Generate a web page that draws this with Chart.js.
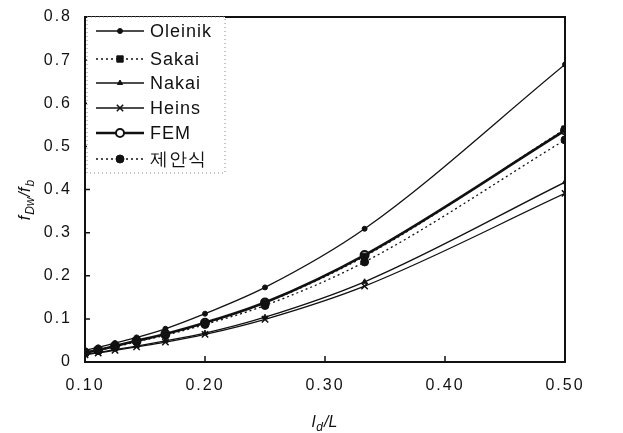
<!DOCTYPE html>
<html>
<head>
<meta charset="utf-8">
<script src="https://cdn.jsdelivr.net/npm/chart.js@4"></script>
<style>
  body { margin: 0; background: #fff; }
  #wrap { width: 623px; height: 433px; }
</style>
</head>
<body>
<div id="wrap"><canvas id="chart" width="623" height="433"></canvas></div>
<script>
// l_d/L values
const ratios = [0.1, 0.111, 0.125, 0.143, 0.167, 0.2, 0.25, 0.333, 0.5];

// f_Dw/f_b for each method
const oleinik = [0.027, 0.034, 0.044, 0.057, 0.077, 0.112, 0.173, 0.309, 0.69];
const sakai   = [0.022, 0.028, 0.037, 0.049, 0.064, 0.09, 0.137, 0.245, 0.54];
const nakai   = [0.018, 0.022, 0.029, 0.037, 0.049, 0.067, 0.104, 0.186, 0.417];
const heins   = [0.017, 0.021, 0.027, 0.035, 0.046, 0.064, 0.099, 0.176, 0.391];
const fem     = [0.022, 0.028, 0.037, 0.049, 0.065, 0.091, 0.138, 0.248, 0.537];
const proposed = [0.021, 0.027, 0.035, 0.047, 0.062, 0.087, 0.131, 0.232, 0.515];

const seriesNames = ['Oleinik', 'Sakai', 'Nakai', 'Heins', 'FEM', '제안식'];
const xTicks = [0.1, 0.2, 0.3, 0.4, 0.5];

const toPoints = vals => vals.map((v, i) => ({ x: ratios[i], y: v }));

function makeSet(label, vals, style) {
  return Object.assign({
    label: label,
    data: toPoints(vals),
    borderColor: '#111',
    backgroundColor: '#111',
    borderWidth: 1.3,
    pointBorderColor: '#111',
    pointBackgroundColor: '#111',
    pointRadius: 3,
    pointBorderWidth: 1,
    cubicInterpolationMode: 'monotone',
    fill: false
  }, style);
}

const datasets = [
  makeSet(seriesNames[0], oleinik, { pointStyle: 'circle', pointRadius: 2.5 }),
  makeSet(seriesNames[1], sakai, { borderDash: [2, 3], pointStyle: 'rect', pointRadius: 4.5 }),
  makeSet(seriesNames[2], nakai, { pointStyle: 'triangle', pointRadius: 3 }),
  makeSet(seriesNames[3], heins, { pointStyle: 'crossRot', pointRadius: 4.5, pointBorderWidth: 1.5 }),
  makeSet(seriesNames[4], fem, { borderWidth: 2.6, pointStyle: 'circle', pointRadius: 4, pointBackgroundColor: '#fff', pointBorderWidth: 2 }),
  makeSet(seriesNames[5], proposed, { borderDash: [2, 3], pointStyle: 'circle', pointRadius: 4 })
];

const FONT = '"Liberation Sans", Arial, sans-serif';

// letter spacing like the scanned figure
const spacing = {
  id: 'spacing',
  beforeUpdate(chart) { chart.ctx.letterSpacing = '2px'; },
  beforeDraw(chart) { chart.ctx.letterSpacing = '2px'; }
};

// frame, inward ticks, axis titles and legend box
const decorations = {
  id: 'decorations',
  afterDraw(chart) {
    const ctx = chart.ctx;
    const a = chart.chartArea;
    const xs = chart.scales.x, ys = chart.scales.y;
    ctx.save();
    ctx.letterSpacing = '0px';
    ctx.strokeStyle = '#111';
    ctx.lineWidth = 2;
    ctx.setLineDash([]);
    ctx.strokeRect(a.left, a.top, a.right - a.left, a.bottom - a.top);

    ctx.lineWidth = 1.5;
    ctx.beginPath();
    xTicks.slice(1, -1).forEach(v => {
      const px = xs.getPixelForValue(v);
      ctx.moveTo(px, a.bottom);
      ctx.lineTo(px, a.bottom - 6);
    });
    for (let v = 0.1; v < 0.8; v += 0.1) {
      const py = ys.getPixelForValue(v);
      ctx.moveTo(a.left, py);
      ctx.lineTo(a.left + 5, py);
    }
    ctx.stroke();

    // y title: f_Dw / f_b
    ctx.fillStyle = '#111';
    ctx.save();
    ctx.translate(30, (a.top + a.bottom) / 2 + 10);
    ctx.rotate(-Math.PI / 2);
    drawSub(ctx, [['f', 16], ['Dw', 12, 4], ['/f', 16], ['b', 12, 4]], 0, 0, 'center');
    ctx.restore();

    // x title: l_d / L
    drawSub(ctx, [['l', 16], ['d', 12, 4], ['/L', 16]], (a.left + a.right) / 2, 427, 'center');

    // legend
    const lx = a.left + 2, ly = a.top, lw = 138, lh = 156;
    ctx.strokeStyle = '#888';
    ctx.lineWidth = 1;
    ctx.setLineDash([1, 3]);
    ctx.fillStyle = '#fff';
    ctx.fillRect(lx, ly, lw, lh);
    ctx.strokeRect(lx, ly, lw, lh);

    const rows = [31, 59, 83, 108, 133, 159];
    chart.data.datasets.forEach((ds, i) => {
      const cy = rows[i];
      ctx.setLineDash(ds.borderDash || []);
      ctx.strokeStyle = ds.borderColor;
      ctx.lineWidth = ds.borderWidth;
      ctx.beginPath();
      ctx.moveTo(lx + 9, cy);
      ctx.lineTo(lx + 57, cy);
      ctx.stroke();
      ctx.setLineDash([]);
      ctx.fillStyle = ds.pointBackgroundColor;
      ctx.strokeStyle = ds.pointBorderColor;
      ctx.lineWidth = ds.pointBorderWidth;
      Chart.helpers.drawPoint(ctx, { pointStyle: ds.pointStyle, radius: ds.pointRadius, borderWidth: ds.pointBorderWidth, rotation: 0 }, lx + 33, cy);
      ctx.fillStyle = '#111';
      ctx.font = '18px ' + FONT;
      ctx.letterSpacing = '1px';
      ctx.textAlign = 'left';
      ctx.textBaseline = 'middle';
      ctx.fillText(ds.label, lx + 63, cy + 1);
      ctx.letterSpacing = '0px';
    });
    ctx.restore();
  }
};

// draw text parts with subscripts; part = [text, size, drop]
function drawSub(ctx, parts, x, y, align) {
  ctx.textBaseline = 'alphabetic';
  ctx.textAlign = 'left';
  let total = 0;
  parts.forEach(p => {
    ctx.font = 'italic ' + p[1] + 'px ' + FONT;
    total += ctx.measureText(p[0]).width + 1;
  });
  let cx = align === 'center' ? x - total / 2 : x;
  parts.forEach(p => {
    ctx.font = 'italic ' + p[1] + 'px ' + FONT;
    ctx.fillText(p[0], cx, y + (p[2] || 0));
    cx += ctx.measureText(p[0]).width + 1;
  });
}

new Chart(document.getElementById('chart').getContext('2d'), {
  type: 'line',
  data: { datasets: datasets },
  plugins: [spacing, decorations],
  options: {
    responsive: false,
    animation: false,
    layout: { padding: { left: 0, right: 58, top: 17, bottom: 0 } },
    plugins: {
      legend: { display: false },
      tooltip: { enabled: false }
    },
    scales: {
      x: {
        type: 'linear',
        min: 0.1,
        max: 0.5,
        afterBuildTicks: s => { s.ticks = xTicks.map(v => ({ value: v })); },
        afterFit: s => { s.height = 71; },
        grid: { display: false },
        border: { display: false },
        ticks: {
          color: '#111',
          padding: 6,
          maxRotation: 0,
          font: { family: FONT, size: 16 },
          callback: v => v.toFixed(2)
        }
      },
      y: {
        min: 0,
        max: 0.8,
        afterFit: s => { s.width = 85; },
        grid: { display: false },
        border: { display: false },
        ticks: {
          stepSize: 0.1,
          color: '#111',
          padding: 5,
          font: { family: FONT, size: 16 },
          callback: v => (v === 0 ? '0' : v.toFixed(1))
        }
      }
    }
  }
});
</script>
</body>
</html>
